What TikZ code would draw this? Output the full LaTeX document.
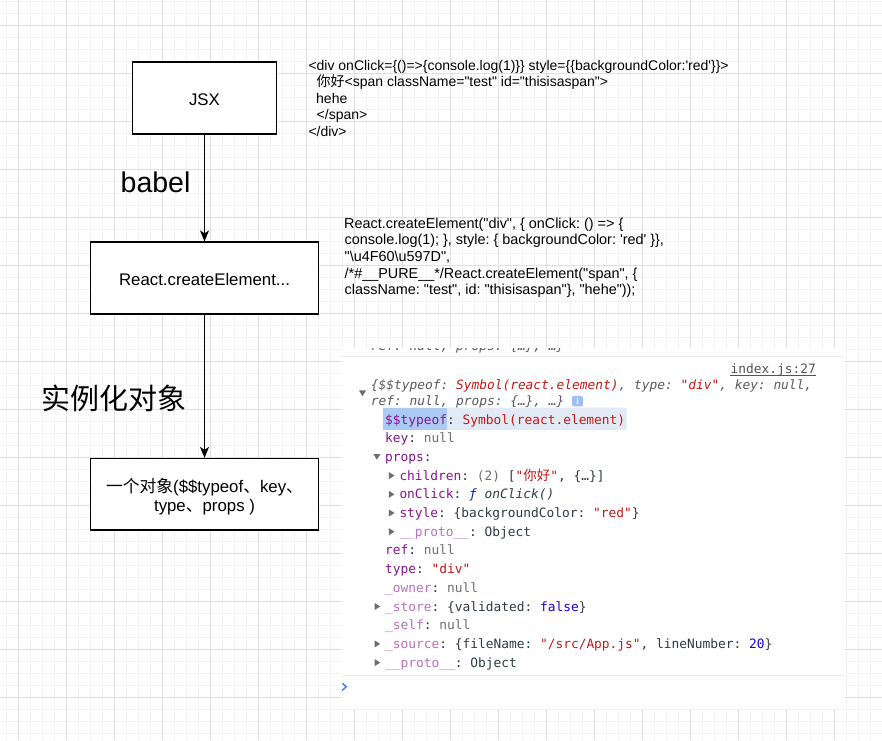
\documentclass[tikz,border=0pt]{standalone}
\usepackage{fontspec}
\usetikzlibrary{arrows.meta}
\newfontfamily\arialfont{Liberation Sans}
\newfontfamily\cjk{Noto Sans CJK SC}
\newfontfamily\dvmono{DejaVu Sans Mono}
\definecolor{ckey}{HTML}{881391}
\definecolor{ckeyf}{HTML}{B871BD}
\definecolor{cstr}{HTML}{C41A16}
\definecolor{cnum}{HTML}{1C00CF}
\definecolor{cdark}{HTML}{303942}
\definecolor{cnull}{HTML}{6E6E6E}
\definecolor{cgray}{HTML}{5A5A5A}
\definecolor{cfn}{HTML}{0D22AA}
\definecolor{ctri}{HTML}{6E6E6E}
\definecolor{chl}{HTML}{E1EAF5}
\definecolor{csel}{HTML}{ACCBF2}
\definecolor{cinfo}{HTML}{9DBDF3}
\definecolor{cprompt}{HTML}{367CF1}
\definecolor{clink}{HTML}{545454}
\definecolor{gmajor}{HTML}{E0E0E0}
\definecolor{gminor}{HTML}{F3F3F3}
\definecolor{csep}{HTML}{EBEBEB}
\newcommand\keyc[1]{\textcolor{ckey}{#1}}
\newcommand\keyf[1]{\textcolor{ckeyf}{#1}}
\newcommand\strc[1]{\textcolor{cstr}{#1}}
\newcommand\numc[1]{\textcolor{cnum}{#1}}
\newcommand\nullc[1]{\textcolor{cnull}{#1}}
\frenchspacing
\begin{document}
\begin{tikzpicture}[x=1pt,y=-1pt,
  box/.style={draw=black, line width=1.2pt, fill=white, inner sep=0pt,
    font=\arialfont\fontsize{16.8}{20}\selectfont\frenchspacing},
  arr/.style={line width=1.2pt, -{Stealth[length=11pt,width=9pt,inset=3pt]}},
  code/.style={anchor=base west, inner sep=0pt, font=\arialfont\fontsize{14}{16}\selectfont\frenchspacing},
  codeb/.style={anchor=base west, inner sep=0pt, font=\arialfont\fontsize{14.4}{17}\selectfont\frenchspacing},
  con/.style={anchor=base west, inner sep=0pt, text=cdark, font=\dvmono\fontsize{12.86}{15}\selectfont\frenchspacing},
  tri/.style={fill=ctri, draw=none},
  minorline/.style={draw=gminor, line width=0.9pt},
  majorline/.style={draw=gmajor, line width=0.9pt}
]
\useasboundingbox (0,0) rectangle (882,740);
\fill[white] (0,0) rectangle (882,740);
% grid
\foreach \i in {0,...,73} \draw[minorline] ({6.3+12*\i},0) -- ({6.3+12*\i},740);
\foreach \i in {0,...,61} \draw[minorline] (0,{1.3+12*\i}) -- (882,{1.3+12*\i});
\foreach \i in {0,...,18} \draw[majorline] ({18.3+48*\i},0) -- ({18.3+48*\i},740);
\foreach \i in {0,...,14} \draw[majorline] (0,{25.3+48*\i}) -- (882,{25.3+48*\i});

% flow boxes
\node[box, minimum width=144pt, minimum height=72pt, text height=15.6pt, text depth=0pt] (jsx) at (204.5,98) {JSX};
\node[box, minimum width=228pt, minimum height=72pt, text height=15.6pt, text depth=0pt] (rce) at (204.5,278) {React.createElement...};
\node[box, minimum width=228pt, minimum height=71.5pt, align=center,
  font=\arialfont\fontsize{16.8}{19.2}\selectfont\frenchspacing] (obj) at (204.5,494.25)
  {\rule{0pt}{19.4pt}{\cjk 一个对象}(\$\$typeof{\cjk 、}key{\cjk 、}\\type{\cjk 、}props )};
\draw[arr] (jsx) -- (rce);
\draw[arr] (rce) -- (obj);
\node[anchor=base west, inner sep=0pt, font=\arialfont\fontsize{28.5}{32}\selectfont] (babel) at (120.5,192) {babel};
\node[inner sep=0pt, font=\cjk\fontsize{29}{32}\selectfont] (inst) at (114,398.3) {实例化对象};

% JSX code
\node[code] (ca) at (308.3,70) {<div onClick=\{()=>\{console.log(1)\}\} style=\{\{backgroundColor:'red'\}\}>};
\node[code] (cb) at (316.5,86.6) {{\cjk 你好}<span className="test" id="thisisaspan">};
\node[code] (cc) at (316,103.2) {hehe};
\node[code] (cd) at (316.5,119.8) {</span>};
\node[code] (ce) at (308.3,136.4) {</div>};

% compiled code
\node[codeb] (da) at (344,228) {React.createElement("div", \{ onClick: () => \{};
\node[codeb] (db) at (344.5,244.7) {console.log(1); \}, style: \{ backgroundColor: 'red' \}\},};
\node[codeb] (dc) at (344.5,261.4) {"\textbackslash u4F60\textbackslash u597D",};
\node[codeb] (dd) at (344.5,278.1) {/*\#\_\_PURE\_\_*/React.createElement("span", \{};
\node[codeb] (de) at (344.5,294.8) {className: "test", id: "thisisaspan"\}, "hehe"));};

% console panel
\fill[white] (341.7,348.3) rectangle (844,709);
\begin{scope}
\clip (341.7,348.3) rectangle (844,709);
\node[con, text=cgray] (frag) at (370.7,350.5) {\textit{ref: null, props: \{…\}, …\}}};
\end{scope}
\draw[csep, line width=0.9pt] (341.7,356.7) -- (844,356.7);
\draw[csep, line width=0.9pt] (341.7,675) -- (844,675);

\node[con, text=clink, anchor=base east] (idx) at (816,373) {index.js:27};
\draw[clink, line width=0.7pt] ([yshift=-2pt]idx.base west) -- ([yshift=-2pt]idx.base east);

\fill[tri] (359,390.3) -- (366,390.3) -- (362.5,396.3) -- cycle;
\node[con] (l0) at (370.7,389) {\textit{{\color{cgray}\{\$\$typeof: }\strc{Symbol(react.element)}{\color{cgray}, type: }\strc{"div"}{\color{cgray}, key: null,}}};
\node[con] (l1) at (370.7,405.7) {\textit{\color{cgray}ref: null, props: \{…\}, …\}}};
\node[fill=cinfo, rounded corners=2pt, minimum width=11pt, minimum height=10.5pt, inner sep=0pt,
  text=white, font=\arialfont\bfseries\fontsize{9}{9}\selectfont] (info) at (577.5,401.2) {i};

\fill[chl, rounded corners=2pt] (382.7,407.7) rectangle (626.7,430);
\fill[csel] (382.7,407.7) rectangle (446.7,430);
\node[con] (l2) at (385,424) {\keyc{\$\$typeof}: \strc{Symbol(react.element)}};
\node[con] (l3) at (385,442.7) {\keyc{key}: \nullc{null}};
\fill[tri] (373.5,454.2) -- (380.3,454.2) -- (376.9,459.7) -- cycle;
\node[con] (l4) at (385,461.4) {\keyc{props}:};
\fill[tri] (388.8,472) -- (394.5,475.6) -- (388.8,479.2) -- cycle;
\node[con] (l5) at (399.3,480.1) {\keyc{children}: \nullc{(2)} [\strc{"{\cjk\fontsize{13.5}{15}\selectfont 你好}"}, \{…\}]};
\fill[tri] (388.8,490.7) -- (394.5,494.3) -- (388.8,497.9) -- cycle;
\node[con] (l6) at (399.3,498.8) {\keyc{onClick}: \textit{\textcolor{cfn}{ƒ} onClick()}};
\fill[tri] (388.8,509.4) -- (394.5,513) -- (388.8,516.6) -- cycle;
\node[con] (l7) at (399.3,517.5) {\keyc{style}: \{backgroundColor: \strc{"red"}\}};
\fill[tri] (388.8,528.1) -- (394.5,531.7) -- (388.8,535.3) -- cycle;
\node[con] (l8) at (399.3,536.2) {\keyf{\_\_proto\_\_}: Object};
\node[con] (l9) at (385,554.9) {\keyc{ref}: \nullc{null}};
\node[con] (l10) at (385,573.6) {\keyc{type}: \strc{"div"}};
\node[con] (l11) at (385,592.3) {\keyf{\_owner}: \nullc{null}};
\fill[tri] (374.5,602.9) -- (380.2,606.5) -- (374.5,610.1) -- cycle;
\node[con] (l12) at (385,611) {\keyf{\_store}: \{validated: \numc{false}\}};
\node[con] (l13) at (385,629.7) {\keyf{\_self}: \nullc{null}};
\fill[tri] (374.5,640.3) -- (380.2,643.9) -- (374.5,647.5) -- cycle;
\node[con] (l14) at (385,648.4) {\keyf{\_source}: \{fileName: \strc{"/src/App.js"}, lineNumber: \numc{20}\}};
\fill[tri] (374.5,659) -- (380.2,662.6) -- (374.5,666.2) -- cycle;
\node[con] (l15) at (385,667.1) {\keyf{\_\_proto\_\_}: Object};
\draw[cprompt, line width=1.4pt] (342.3,683.3) -- (346.2,686.8) -- (342.3,690.3);
\end{tikzpicture}
\end{document}
